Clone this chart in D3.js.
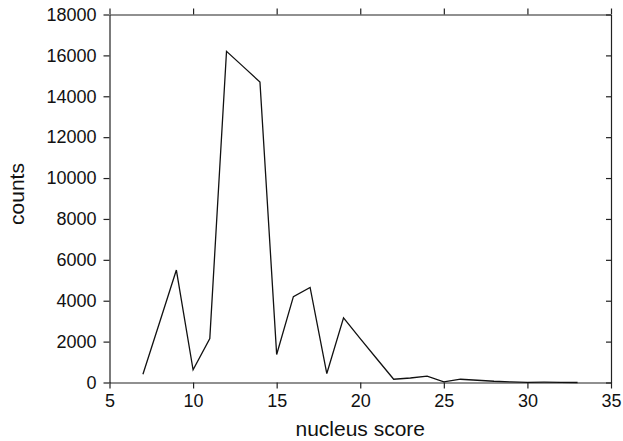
<!DOCTYPE html>
<html>
<head>
<meta charset="utf-8">
<script src="https://cdn.jsdelivr.net/npm/d3@7"></script>
<style>
  body { margin: 0; background: #fff; }
  svg { display: block; }
</style>
</head>
<body>
<svg width="623" height="441"></svg>
<script>
// nucleus score vs counts
const scores = [7, 8, 9, 10, 11, 12, 13, 14, 15, 16, 17, 18, 19, 20, 21, 22, 23, 24, 25, 26, 27, 28, 29, 30, 31, 32, 33];
const counts = [400, 2950, 5500, 620, 2150, 16200, 15450, 14700, 1370, 4200, 4650, 440, 3160, 2150, 1150, 160, 220, 310, 30, 160, 110, 60, 30, 10, 15, 5, 0];
const xTicks = [5, 10, 15, 20, 25, 30, 35];
const yTicks = [0, 2000, 4000, 6000, 8000, 10000, 12000, 14000, 16000, 18000];

var svg = d3.select("svg"),
    left = 109.5,
    right = 611,
    top_ = 14.5,
    bottom = 382.5;

var xScale = d3.scaleLinear([5, 35], [left, right]);
var yScale = d3.scaleLinear([0, 18000], [bottom, top_]);

const font = "Liberation Sans, Arial, Helvetica, sans-serif";
const axisColor = "#222";

function styleAxis(g) {
    g.select(".domain").attr("stroke", axisColor).attr("stroke-width", 1.2);
    g.selectAll(".tick line").attr("stroke", axisColor).attr("stroke-width", 1.2);
    g.selectAll(".tick text").attr("fill", "#111").attr("font-size", "18px").attr("font-family", font);
}

// bottom
svg.append("g")
    .attr("transform", "translate(0," + bottom + ")")
    .call(d3.axisBottom(xScale).tickValues(xTicks).tickSize(6).tickSizeOuter(0).tickPadding(6).tickFormat(d3.format("d")))
    .call(styleAxis);

// top
svg.append("g")
    .attr("transform", "translate(0," + top_ + ")")
    .call(d3.axisTop(xScale).tickValues(xTicks).tickSize(6).tickSizeOuter(0).tickFormat(""))
    .call(styleAxis);

// left
svg.append("g")
    .attr("transform", "translate(" + left + ",0)")
    .call(d3.axisLeft(yScale).tickValues(yTicks).tickSize(6).tickSizeOuter(0).tickPadding(7).tickFormat(d3.format("d")))
    .call(styleAxis);

// right, ticks point inwards
svg.append("g")
    .attr("transform", "translate(" + right + ",0)")
    .call(d3.axisLeft(yScale).tickValues(yTicks).tickSize(5).tickSizeOuter(0).tickFormat(""))
    .call(styleAxis);

// line
var line = d3.line()
    .x((d, i) => xScale(scores[i]))
    .y(d => yScale(d));

svg.append("path")
    .datum(counts)
    .attr("d", line)
    .style("fill", "none")
    .style("stroke", "#111")
    .style("stroke-width", 1.3)
    .style("stroke-linejoin", "miter");

// labels
svg.append("text")
    .attr("x", (left + right) / 2)
    .attr("y", 436)
    .attr("text-anchor", "middle")
    .attr("font-family", font)
    .attr("font-size", "21px")
    .attr("fill", "#111")
    .text("nucleus score");

svg.append("text")
    .attr("transform", "translate(23.5,194) rotate(-90)")
    .attr("text-anchor", "middle")
    .attr("font-family", font)
    .attr("font-size", "21px")
    .attr("fill", "#111")
    .text("counts");
</script>
</body>
</html>
